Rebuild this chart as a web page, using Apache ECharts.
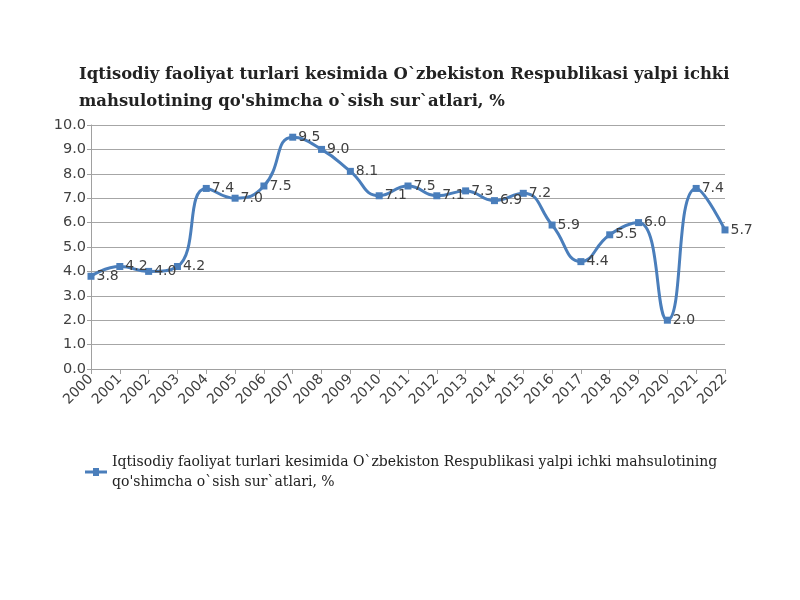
<!DOCTYPE html>
<html><head><meta charset="utf-8">
<script src="https://cdn.jsdelivr.net/npm/echarts@6/dist/echarts.min.js"></script>
<style>html,body{margin:0;padding:0;background:#fff}#c{width:800px;height:600px}</style>
</head><body><div id="c"></div>
<script>
const years = ['2000','2001','2002','2003','2004','2005','2006','2007','2008','2009','2010','2011','2012','2013','2014','2015','2016','2017','2018','2019','2020','2021','2022'];
const growth = [3.8, 4.2, 4.0, 4.2, 7.4, 7.0, 7.5, 9.5, 9.0, 8.1, 7.1, 7.5, 7.1, 7.3, 6.9, 7.2, 5.9, 4.4, 5.5, 6.0, 2.0, 7.4, 5.7];
const seriesName = "Iqtisodiy faoliyat turlari kesimida O`zbekiston Respublikasi yalpi ichki mahsulotining qo'shimcha o`sish sur`atlari, %";
const titleText = "Iqtisodiy faoliyat turlari kesimida O`zbekiston Respublikasi yalpi ichki\nmahsulotining qo'shimcha o`sish sur`atlari, %";

const chart = echarts.init(document.getElementById('c'));
chart.setOption({
  animation: false,
  backgroundColor: '#fff',
  title: {
    text: titleText, left: 74, top: 56,
    textStyle: { fontFamily: 'DejaVu Serif', fontWeight: 'bold', fontSize: 16.4, color: '#222', lineHeight: 27 }
  },
  grid: { left: 91, right: 75, top: 125, bottom: 231, containLabel: false },
  legend: {
    left: 80, top: 447, itemWidth: 22, itemHeight: 8,
    icon: 'path://M0,2.5 L8,2.5 L8,0 L14,0 L14,2.5 L22,2.5 L22,5.5 L14,5.5 L14,8 L8,8 L8,5.5 L0,5.5 Z',
    formatter: () => "Iqtisodiy faoliyat turlari kesimida O`zbekiston Respublikasi yalpi ichki mahsulotining\nqo'shimcha o`sish sur`atlari, %",
    textStyle: { fontFamily: 'DejaVu Serif', fontSize: 14, color: '#222', lineHeight: 20 }
  },
  xAxis: {
    type: 'category', data: years, boundaryGap: false,
    axisLine: { lineStyle: { color: '#a0a0a0' } },
    axisTick: { show: true, length: 5, lineStyle: { color: '#a0a0a0' } },
    axisLabel: { rotate: 45, interval: 0, fontFamily: 'DejaVu Sans', fontSize: 14, color: '#404040', margin: 8 }
  },
  yAxis: {
    type: 'value', min: 0, max: 10, interval: 1,
    axisLine: { show: true, lineStyle: { color: '#a0a0a0' } },
    axisTick: { show: true, length: 4, lineStyle: { color: '#a0a0a0' } },
    axisLabel: { formatter: v => v.toFixed(1), fontFamily: 'DejaVu Sans', fontSize: 14.5, color: '#404040', margin: 5 },
    splitLine: { lineStyle: { color: '#a6a6a6', width: 1 } }
  },
  series: [{
    name: seriesName, type: 'line', data: growth, smooth: 0.5,
    symbol: 'rect', symbolSize: 7,
    itemStyle: { color: '#4A7EBB' },
    lineStyle: { color: '#4A7EBB', width: 3 },
    label: { show: true, position: 'right', distance: 2, formatter: p => p.value.toFixed(1),
      fontFamily: 'DejaVu Sans', fontSize: 14, color: '#404040' }
  }]
});
</script></body></html>
